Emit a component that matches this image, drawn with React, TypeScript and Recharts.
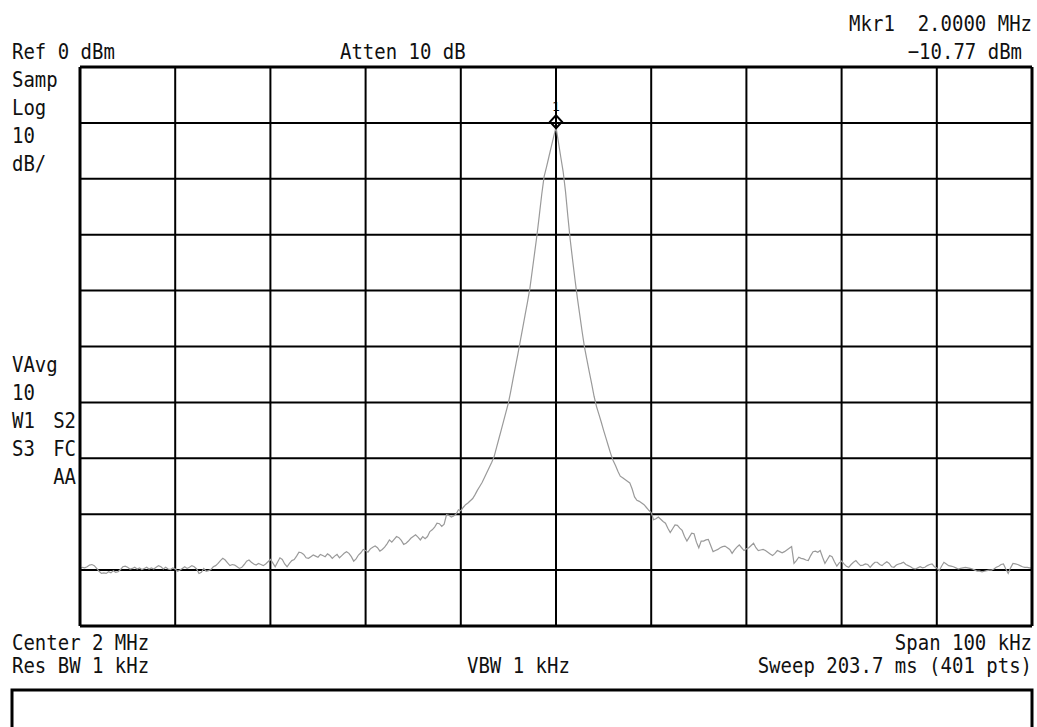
import React from "react";
import { LineChart, Line, XAxis, YAxis, ReferenceLine, ReferenceDot } from "recharts";

// Sweep setup
const CENTER_MHZ = 2.0;
const SPAN_MHZ = 0.1;
const POINTS = 401;
const REF_DBM = 0;
const DB_PER_DIV = 10;

// Trace values (dBm), sweep points 0..159
const noiseLeft = [
  -89.7, -89.5, -89.6, -89.4, -89.1, -89.0, -89.2, -89.7, -90.2, -90.6,
  -90.5, -90.6, -90.3, -90.5, -90.1, -90.4, -90.3, -89.9, -89.4, -89.3,
  -89.5, -89.8, -89.7, -89.5, -89.8, -89.6, -89.9, -89.7, -89.5, -89.8,
  -89.6, -89.8, -89.5, -89.2, -89.4, -89.8, -89.5, -89.8, -89.9, -89.6,
  -89.8, -90.2, -90.0, -89.7, -89.4, -89.7, -89.5, -89.2, -89.4, -89.8,
  -90.6, -90.4, -89.7, -90.2, -90.1, -89.9, -89.4, -89.2, -88.8, -88.3,
  -87.9, -88.2, -88.7, -89.2, -89.0, -89.1, -89.4, -89.7, -89.5, -89.0,
  -88.4, -88.2, -88.6, -88.9, -89.1, -88.8, -89.0, -89.2, -88.9, -88.5,
  -88.1, -88.7, -89.4, -88.6, -87.8, -88.1, -88.9, -89.4, -88.8, -88.3,
  -88.1, -87.5, -86.8, -86.9, -87.2, -87.8, -87.9, -87.6, -87.3, -87.5,
  -87.7, -87.2, -87.4, -87.6, -87.1, -87.4, -87.9, -87.5, -87.2, -87.8,
  -87.4, -87.0, -86.7, -87.0, -87.6, -88.4, -88.0, -87.3, -86.9, -86.3,
  -86.5, -86.8, -86.2, -85.9, -85.7, -86.0, -86.6, -86.3, -85.9, -85.3,
  -84.6, -85.0, -84.5, -84.0, -84.2, -84.7, -85.4, -85.2, -84.8, -84.3,
  -84.0, -83.7, -84.1, -84.6, -84.0, -84.4, -84.0, -83.1, -82.8, -82.3,
  -81.6, -81.7, -82.2, -81.8, -80.1, -80.2, -80.5, -80.3, -80.0, -79.2,
];

// sweep points 160..199
const peakLeft = [
  -79.4, -78.8, -78.3, -78.0, -77.6, -77.2, -76.5, -75.7, -75.0, -74.3,
  -73.4, -72.5, -71.6, -70.7, -69.7, -68.1, -66.5, -64.9, -63.3, -61.7,
  -60.1, -58.0, -55.7, -53.5, -51.3, -49.0, -46.7, -44.4, -42.1, -39.7,
  -36.5, -33.3, -30.1, -26.5, -22.8, -19.6, -17.9, -16.1, -14.3, -12.5,
];

// sweep point 200 (marker 1)
const peakTop = [-10.77];

// sweep points 201..240
const peakRight = [
  -13.4, -16.1, -18.7, -22.3, -26.8, -31.0, -34.6, -38.1, -41.4, -44.4,
  -47.4, -50.2, -52.4, -54.6, -56.7, -58.9, -60.7, -62.1, -63.5, -65.0,
  -66.4, -67.8, -69.2, -70.4, -71.3, -72.3, -73.2, -73.5, -73.8, -74.1,
  -74.4, -75.5, -76.9, -77.5, -77.7, -78.0, -78.3, -78.8, -79.3, -79.7,
];

// sweep points 241..400
const noiseRight = [
  -81.0, -80.8, -80.5, -80.9, -81.3, -81.6, -82.5, -83.3, -82.6, -81.9,
  -82.0, -82.5, -82.9, -84.0, -84.8, -84.1, -83.4, -83.5, -85.0, -86.0,
  -84.8, -84.8, -84.6, -84.5, -85.6, -86.7, -86.5, -86.3, -86.0, -85.8,
  -85.7, -86.0, -86.3, -87.0, -86.4, -85.9, -85.5, -86.0, -86.5, -86.2,
  -86.0, -85.6, -85.2, -86.0, -86.5, -86.4, -86.3, -86.5, -86.8, -87.1,
  -87.4, -87.0, -86.5, -86.7, -86.9, -86.7, -86.4, -86.1, -85.8, -88.8,
  -88.3, -87.7, -87.9, -88.0, -88.2, -88.3, -87.4, -86.7, -86.6, -86.8,
  -86.5, -87.7, -88.8, -88.1, -87.4, -87.6, -88.5, -89.3, -88.7, -88.4,
  -88.9, -89.3, -89.5, -89.0, -88.6, -88.3, -88.8, -89.2, -89.1, -88.9,
  -89.0, -89.5, -89.0, -88.6, -88.6, -89.0, -89.2, -88.8, -88.5, -88.8,
  -89.4, -89.5, -89.1, -88.9, -88.8, -88.6, -89.0, -89.2, -89.4, -89.7,
  -89.8, -89.6, -89.4, -89.6, -89.5, -89.2, -89.0, -88.9, -89.4, -89.6,
  -90.1, -89.3, -88.6, -88.9, -89.2, -89.3, -89.4, -89.6, -89.8, -89.7,
  -89.6, -89.5, -89.6, -89.7, -89.8, -90.0, -90.2, -90.2, -90.3, -90.2,
  -90.1, -90.0, -90.0, -89.8, -89.5, -89.3, -89.0, -88.9, -89.8, -90.6,
  -89.6, -88.8, -88.9, -89.0, -89.2, -89.4, -89.5, -89.5, -89.6, -89.7,
];

const traceValues = [...noiseLeft, ...peakLeft, ...peakTop, ...peakRight, ...noiseRight];

// Grid tick values
const freqTicks = [1.95, 1.96, 1.97, 1.98, 1.99, 2.0, 2.01, 2.02, 2.03, 2.04, 2.05];
const levelTicks = [0, -10, -20, -30, -40, -50, -60, -70, -80, -90, -100];

const MARKER_FREQ = 2.0;
const MARKER_LEVEL = -10.77;

const F_START = CENTER_MHZ - SPAN_MHZ / 2;
const F_STOP = CENTER_MHZ + SPAN_MHZ / 2;
const data = traceValues.slice(0, POINTS).map((v, i) => ({
  f: F_START + (i * SPAN_MHZ) / (POINTS - 1),
  v,
}));

// Annotation texts
const topTexts = [
  { t: "Ref 0 dBm", x: 12, y: 59, a: "start" },
  { t: "Atten 10 dB", x: 340, y: 59, a: "start" },
  { t: "Mkr1  2.0000 MHz", x: 1032, y: 31, a: "end" },
  { t: "\u221210.77 dBm", x: 1022, y: 59, a: "end" },
];
const sideTexts = [
  { t: "Samp", x: 12, y: 87, a: "start" },
  { t: "Log", x: 12, y: 115, a: "start" },
  { t: "10", x: 12, y: 143, a: "start" },
  { t: "dB/", x: 12, y: 171, a: "start" },
  { t: "VAvg", x: 12, y: 372, a: "start" },
  { t: "10", x: 12, y: 400, a: "start" },
  { t: "W1", x: 12, y: 428, a: "start" },
  { t: "S2", x: 76, y: 428, a: "end" },
  { t: "S3", x: 12, y: 456, a: "start" },
  { t: "FC", x: 76, y: 456, a: "end" },
  { t: "AA", x: 76, y: 484, a: "end" },
];
const bottomTexts = [
  { t: "Center 2 MHz", x: 12, y: 650, a: "start" },
  { t: "Res BW 1 kHz", x: 12, y: 673, a: "start" },
  { t: "VBW 1 kHz", x: 467, y: 673, a: "start" },
  { t: "Span 100 kHz", x: 1032, y: 650, a: "end" },
  { t: "Sweep 203.7 ms (401 pts)", x: 1032, y: 673, a: "end" },
];

const FONT = "'DejaVu Sans Mono', 'Liberation Mono', monospace";

function Txt({ t, x, y, a }: { t: string; x: number; y: number; a: string }) {
  return (
    <g transform={`translate(${x},${y}) scale(1,1.12)`}>
      <text
        x={0}
        y={0}
        textAnchor={a as any}
        fontFamily={FONT}
        fontSize={19}
        fill="#111"
        xmlSpace="preserve"
        style={{ whiteSpace: "pre" }}
      >
        {t}
      </text>
    </g>
  );
}

function MarkerShape(props: any) {
  const { cx, cy } = props;
  if (cx == null || cy == null) return null;
  const pts = `${cx},${cy + 1} ${cx + 6},${cy - 5.5} ${cx},${cy - 12} ${cx - 6},${cy - 5.5}`;
  return (
    <g>
      <polygon points={pts} fill="none" stroke="#000" strokeWidth={2} />
      <text x={cx} y={cy - 16} textAnchor="middle" fontFamily={FONT} fontSize={13} fill="#000">
        1
      </text>
    </g>
  );
}

export default function App() {
  const W = 1037;
  const H = 727;
  return (
    <div style={{ position: "absolute", left: 0, top: 0, width: W, height: H, background: "#fff" }}>
      <LineChart
        width={W}
        height={H}
        data={data}
        margin={{ left: 80, top: 67, right: 5, bottom: 101 }}
      >
        <XAxis dataKey="f" type="number" domain={[F_START, F_STOP]} hide />
        <YAxis type="number" domain={[REF_DBM - 10 * DB_PER_DIV, REF_DBM]} hide allowDataOverflow />
        {freqTicks.slice(1, -1).map((t) => (
          <ReferenceLine key={"vx" + t} x={t} stroke="#000" strokeWidth={2} />
        ))}
        {levelTicks.slice(1, -1).map((t) => (
          <ReferenceLine key={"hy" + t} y={t} stroke="#000" strokeWidth={2} />
        ))}
        <Line
          type="linear"
          dataKey="v"
          stroke="#9a9a9a"
          strokeWidth={1.2}
          dot={false}
          isAnimationActive={false}
        />
        <ReferenceLine x={freqTicks[0]} stroke="#000" strokeWidth={3} />
        <ReferenceLine x={freqTicks[freqTicks.length - 1]} stroke="#000" strokeWidth={3} />
        <ReferenceLine y={levelTicks[0]} stroke="#000" strokeWidth={3} />
        <ReferenceLine y={levelTicks[levelTicks.length - 1]} stroke="#000" strokeWidth={3} />
        <ReferenceDot x={MARKER_FREQ} y={MARKER_LEVEL} shape={MarkerShape} />
      </LineChart>
      <svg
        width={W}
        height={H}
        style={{ position: "absolute", left: 0, top: 0, pointerEvents: "none" }}
      >
        {[...topTexts, ...sideTexts, ...bottomTexts].map((d, i) => (
          <Txt key={i} {...d} />
        ))}
        <rect x={12} y={690} width={1020} height={60} fill="none" stroke="#000" strokeWidth={3} />
      </svg>
    </div>
  );
}
